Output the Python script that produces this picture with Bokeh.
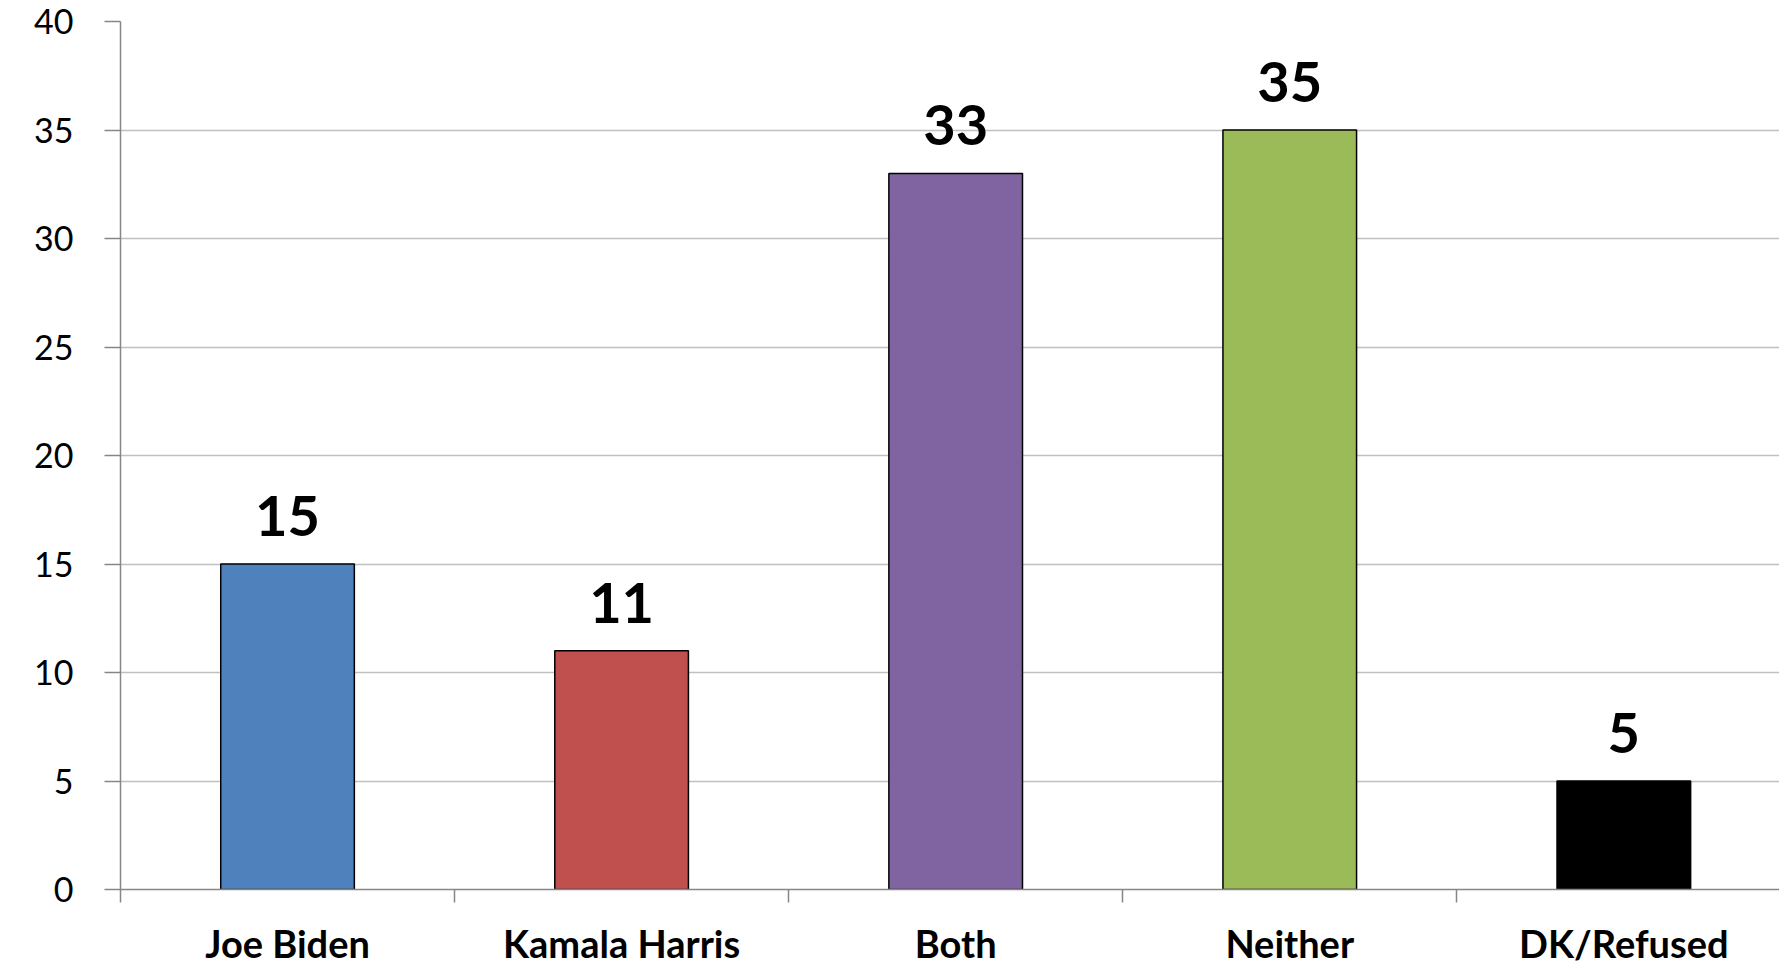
from bokeh.plotting import figure
from bokeh.models import ColumnDataSource, FixedTicker, LabelSet, Range1d
from bokeh.core.properties import value
from bokeh.embed import file_html
from bokeh.resources import INLINE

categories = ["Joe Biden", "Kamala Harris", "Both", "Neither", "DK/Refused"]
values = [15, 11, 33, 35, 5]
colors = ["#4F81BD", "#C0504D", "#8064A2", "#9BBB59", "#000000"]
y_ticks = [0, 5, 10, 15, 20, 25, 30, 35, 40]

FONT = "Lato"
xs = [i + 0.5 for i in range(len(categories))]

src = ColumnDataSource(dict(x=xs, top=values, color=colors,
                            label=[str(v) for v in values], cat=categories))

p = figure(width=1779, height=968, output_backend="svg", toolbar_location=None,
           x_range=Range1d(0, 4.966), y_range=Range1d(0, 40),
           min_border_left=120, min_border_right=0, min_border_top=21,
           min_border_bottom=78)
p.outline_line_color = None
p.background_fill_color = "white"

p.vbar(x="x", top="top", width=0.4, bottom=0, fill_color="color",
       line_color="black", line_width=1.5, source=src)

labels = LabelSet(x="x", y="top", text="label", source=src, y_offset=28,
                  text_align="center", text_baseline="alphabetic",
                  text_font=value(FONT), text_font_style="bold",
                  text_font_size="56px", text_color="black")
p.add_layout(labels)

# y axis
p.yaxis.ticker = FixedTicker(ticks=y_ticks)
p.yaxis.minor_tick_line_color = None
p.yaxis.major_tick_in = 0
p.yaxis.major_tick_out = 16
p.yaxis.major_tick_line_color = "#868686"
p.yaxis.major_tick_line_width = 1.5
p.yaxis.axis_line_color = "#868686"
p.yaxis.axis_line_width = 1.5
p.yaxis.major_label_text_font = FONT
p.yaxis.major_label_text_font_size = "34px"
p.yaxis.major_label_text_color = "black"
p.yaxis.major_label_standoff = 31

# x axis
p.xaxis.ticker = FixedTicker(ticks=xs, minor_ticks=[0, 1, 2, 3, 4])
p.xaxis.major_label_overrides = {x: c for x, c in zip(xs, categories)}
p.xaxis.major_tick_in = 0
p.xaxis.major_tick_out = 0
p.xaxis.minor_tick_in = 0
p.xaxis.minor_tick_out = 13
p.xaxis.minor_tick_line_color = "#868686"
p.xaxis.minor_tick_line_width = 1.5
p.xaxis.axis_line_color = "#868686"
p.xaxis.axis_line_width = 1.5
p.xaxis.major_label_text_font = FONT
p.xaxis.major_label_text_font_style = "bold"
p.xaxis.major_label_text_font_size = "38px"
p.xaxis.major_label_text_color = "black"
p.xaxis.major_label_standoff = 17

p.xgrid.grid_line_color = None
p.ygrid.grid_line_color = "#C0C0C0"
p.ygrid.grid_line_width = 1.5

open("out.html", "w").write(file_html(p, INLINE))
